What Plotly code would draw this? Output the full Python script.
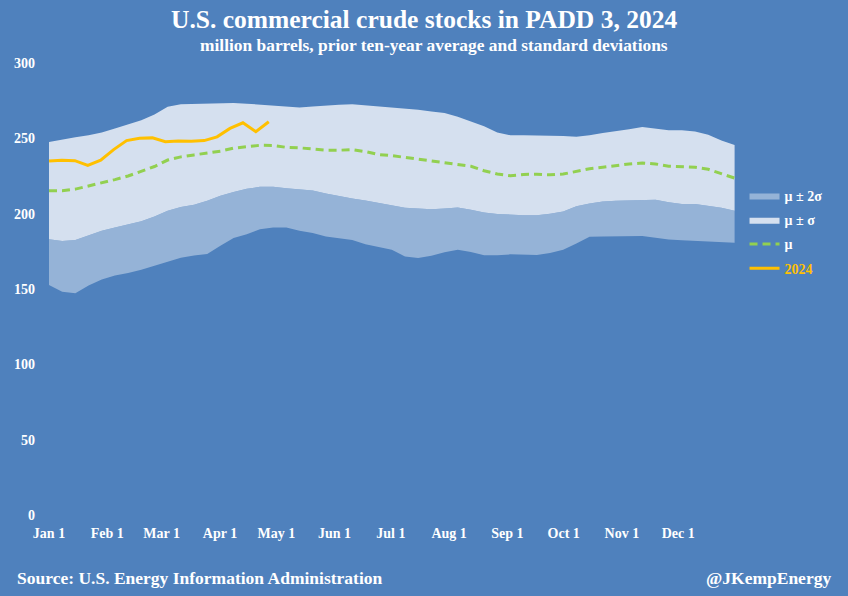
import pandas as pd
import plotly.graph_objects as go

# ---- data (million barrels) ----
week_dates = pd.date_range("2024-01-01", "2024-12-31", periods=53)

mu_plus_sigma = [247.5, 249.2, 250.8, 252.0, 253.8, 256.5, 259.0, 262.0, 265.8, 271.0,
                 272.7, 273.0, 273.1, 273.3, 273.5, 273.0, 272.3, 271.6, 270.9, 270.5,
                 271.2, 271.9, 272.3, 272.7, 272.0, 271.4, 270.7, 269.8, 269.0, 267.8,
                 266.8, 264.3, 261.4, 258.0, 253.8, 252.0, 252.0, 252.0, 251.8, 251.5,
                 251.1, 252.0, 253.5, 254.6, 256.0, 257.5, 256.5, 255.3, 255.3, 254.5,
                 252.3, 248.5, 245.5]

mu = [215.2, 215.2, 216.3, 218.3, 220.3, 222.6, 225.0, 227.9, 231.3, 235.6,
      237.7, 239.0, 240.3, 241.5, 243.5, 244.3, 245.4, 245.3, 244.0, 243.7,
      242.8, 242.1, 242.1, 242.5, 241.2, 239.2, 238.5, 237.3, 236.0, 235.0,
      233.5, 232.5, 231.5, 228.5, 226.3, 225.2, 226.0, 226.2, 225.8, 226.3,
      228.0, 229.8, 230.8, 232.0, 233.0, 233.6, 233.0, 231.5, 231.2, 230.8,
      229.5, 226.5, 223.6]

mu_minus_sigma = [183.0, 181.9, 182.6, 185.4, 188.7, 190.8, 192.9, 195.0, 198.2, 202.0,
                  204.5, 206.0, 208.6, 211.9, 214.4, 216.5, 217.8, 217.8, 216.9, 216.1,
                  215.3, 213.4, 211.5, 210.1, 208.8, 207.3, 205.4, 204.0, 203.4, 202.9,
                  203.4, 204.1, 202.6, 200.7, 199.8, 199.2, 199.0, 199.0, 199.9, 201.5,
                  205.0, 206.8, 208.1, 208.6, 209.0, 209.3, 209.3, 207.5, 206.4, 206.4,
                  205.3, 204.0, 202.0]

mu_minus_2sigma = [152.6, 148.2, 147.1, 152.4, 156.3, 159.0, 160.6, 162.7, 165.4, 168.1,
                   170.8, 172.2, 173.3, 178.7, 183.8, 186.4, 189.6, 190.8, 190.8, 188.7,
                   187.2, 184.9, 183.5, 182.5, 179.7, 177.7, 176.0, 171.6, 170.6, 172.0,
                   174.4, 176.0, 174.5, 172.4, 172.4, 173.0, 173.0, 172.6, 173.9, 176.0,
                   180.2, 184.6, 184.9, 185.1, 185.1, 185.1, 184.0, 182.8, 182.3, 181.9,
                   181.6, 181.1, 180.7]

dates_2024 = pd.date_range("2024-01-01", "2024-04-27", periods=18)
stocks_2024 = [234.9, 235.5, 235.2, 232.0, 235.5, 242.5, 248.5, 250.0, 250.3, 247.8,
               248.2, 248.0, 248.5, 251.0, 256.6, 260.3, 254.4, 261.0]

tick_dates = ["2024-01-01", "2024-02-01", "2024-03-01", "2024-04-01", "2024-05-01",
              "2024-06-01", "2024-07-01", "2024-08-01", "2024-09-01", "2024-10-01",
              "2024-11-01", "2024-12-01"]
tick_labels = ["Jan 1", "Feb 1", "Mar 1", "Apr 1", "May 1", "Jun 1", "Jul 1",
               "Aug 1", "Sep 1", "Oct 1", "Nov 1", "Dec 1"]
y_ticks = [0, 50, 100, 150, 200, 250, 300]

# ---- styles ----
BG = "#4F81BD"
LIGHT = "#D5E0EF"
MED = "#95B3D7"
GREEN = "#92D050"
GOLD = "#FFC000"
FONT = "Liberation Serif"

W, H = 848, 596
ML, MR, MT, MB = 44, 108, 63, 81
plot_w = W - ML - MR
plot_h = H - MT - MB


def px(x):
    return (x - ML) / plot_w


def py(y):
    return (H - MB - y) / plot_h


fig = go.Figure()

fig.add_trace(go.Scatter(x=week_dates, y=mu_minus_2sigma, mode="lines",
                         line=dict(width=0), showlegend=False, hoverinfo="skip"))
fig.add_trace(go.Scatter(x=week_dates, y=mu_minus_sigma, mode="lines",
                         line=dict(width=0), fill="tonexty", fillcolor=MED,
                         name="μ ± 2σ", legendgroup="a"))
fig.add_trace(go.Scatter(x=week_dates, y=mu_plus_sigma, mode="lines",
                         line=dict(width=0), fill="tonexty", fillcolor=LIGHT,
                         name="μ ± σ", legendgroup="b"))
fig.add_trace(go.Scatter(x=week_dates, y=mu, mode="lines",
                         line=dict(color=GREEN, width=3, dash="8px,5px"),
                         name="μ", legendgroup="c"))
fig.add_trace(go.Scatter(x=dates_2024, y=stocks_2024, mode="lines",
                         line=dict(color=GOLD, width=3),
                         name="<span style='color:%s'>2024</span>" % GOLD,
                         legendgroup="d"))

fig.update_layout(
    width=W, height=H,
    paper_bgcolor=BG, plot_bgcolor=BG,
    margin=dict(l=ML, r=MR, t=MT, b=MB),
    font=dict(family=FONT, color="white", size=13),
    showlegend=True,
    legend=dict(x=1.0065, xanchor="left", y=py(180), yanchor="top",
                bgcolor="rgba(0,0,0,0)", tracegroupgap=3,
                font=dict(family=FONT, size=14, color="white", weight="bold")),
    xaxis=dict(type="date",
               range=["2023-12-29 08:00", "2025-01-02 21:00"],
               tickvals=tick_dates, ticktext=tick_labels,
               showgrid=False, zeroline=False, showline=False, ticks="",
               ticklabelstandoff=8,
               tickfont=dict(family=FONT, size=14, color="white", weight="bold")),
    yaxis=dict(range=[0, 300], tickvals=y_ticks,
               showgrid=False, zeroline=False, showline=False, ticks="",
               ticklabelstandoff=8,
               tickfont=dict(family=FONT, size=14, color="white", weight="bold")),
    annotations=[
        dict(text="<b>U.S. commercial crude stocks in PADD 3, 2024</b>",
             xref="paper", yref="paper", x=px(424), y=py(19),
             xanchor="center", yanchor="middle", showarrow=False,
             font=dict(family=FONT, size=25.5, color="white")),
        dict(text="<b>million barrels, prior ten-year average and standard deviations</b>",
             xref="paper", yref="paper", x=px(434), y=py(45),
             xanchor="center", yanchor="middle", showarrow=False,
             font=dict(family=FONT, size=17.4, color="white")),
        dict(text="<b>Source: U.S. Energy Information Administration</b>",
             xref="paper", yref="paper", x=px(15), y=py(578),
             xanchor="left", yanchor="middle", showarrow=False,
             font=dict(family=FONT, size=17.5, color="white")),
        dict(text="<b>@JKempEnergy</b>",
             xref="paper", yref="paper", x=px(833), y=py(578),
             xanchor="right", yanchor="middle", showarrow=False,
             font=dict(family=FONT, size=17.5, color="white")),
    ],
)

fig.write_html(
    "out.html",
    config={"displayModeBar": False},
    post_script="document.body.style.margin='0';"
                "document.body.style.overflow='hidden';"
                "document.body.style.background='%s';" % BG,
)
